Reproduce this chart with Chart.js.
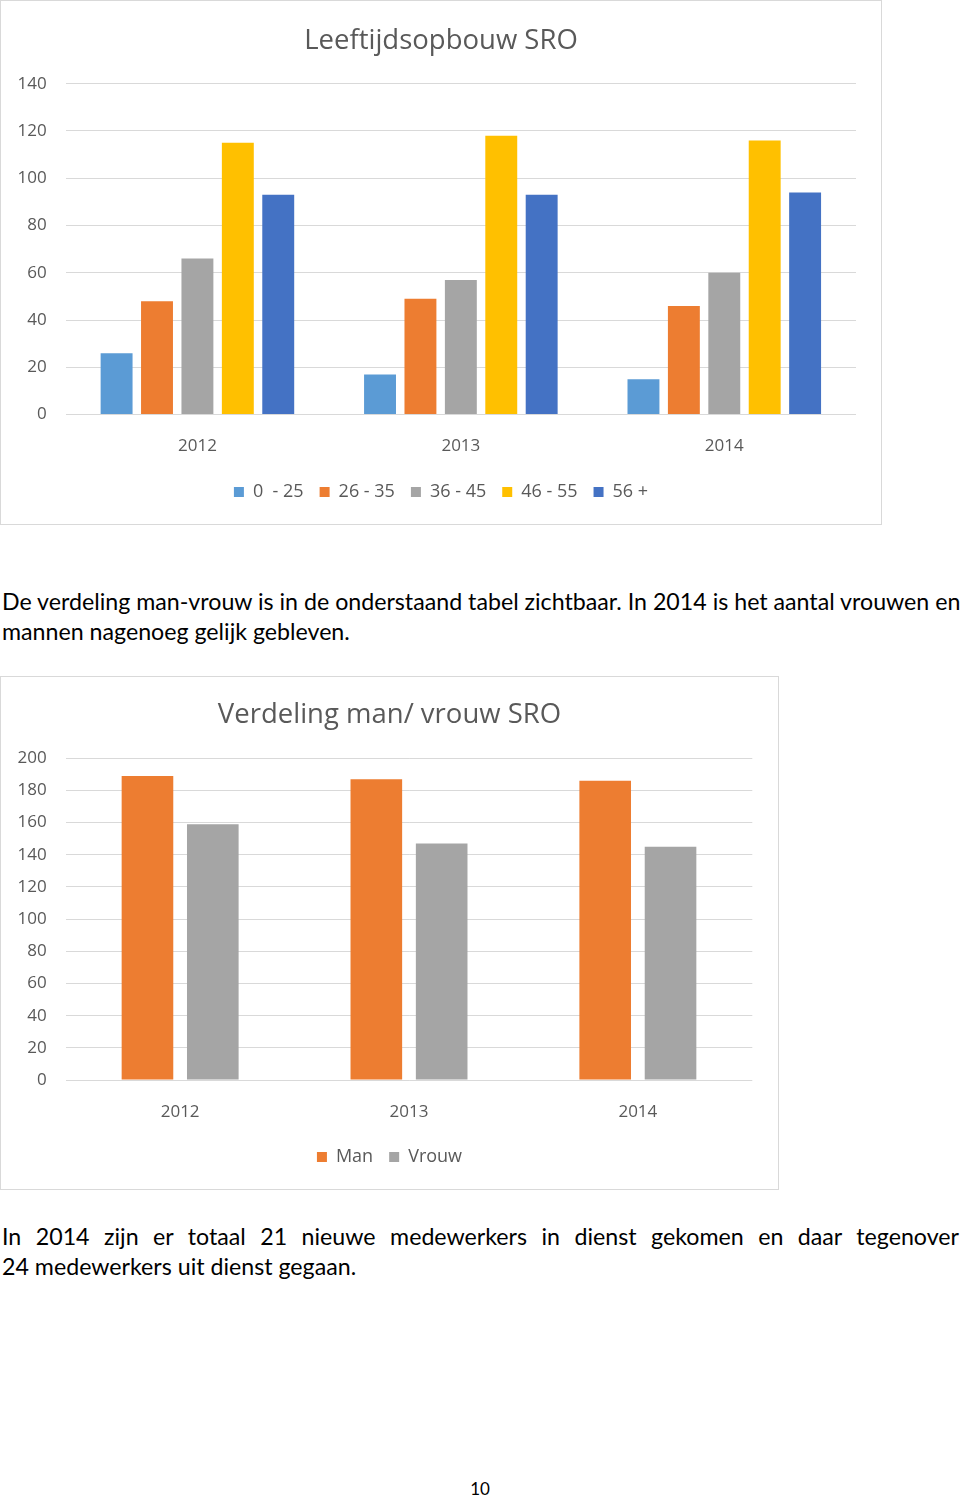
<!DOCTYPE html>
<html>
<head>
<meta charset="utf-8">
<script src="https://cdn.jsdelivr.net/npm/chart.js@4"></script>
<style>
    html, body { margin: 0; padding: 0; background: #ffffff; }
    body { width: 960px; height: 1496px; position: relative; overflow: hidden; font-family: Lato, 'Noto Sans', sans-serif; color: #000000; }
    .box { position: absolute; border: 1px solid #d9d9d9; box-sizing: border-box; }
    .box canvas { display: block; }
    .line { position: absolute; left: 2px; font-size: 23.2px; line-height: 30px; white-space: nowrap; }
    .just { width: 957px; text-align: justify; text-align-last: justify; }
    .pagenr { position: absolute; left: 0; width: 960px; top: 1478px; text-align: center; font-size: 17px; line-height: 22px; }
</style>
</head>
<body>

<div class="box" style="left:0; top:0; width:882px; height:525px;">
    <canvas id="ageChart" width="880" height="523"></canvas>
</div>

<div class="line" style="top:586px;">De verdeling man-vrouw is in de onderstaand tabel zichtbaar. In 2014 is het aantal vrouwen en</div>
<div class="line" style="top:616px;">mannen nagenoeg gelijk gebleven.</div>

<div class="box" style="left:0; top:676px; width:779px; height:514px;">
    <canvas id="genderChart" width="777" height="512"></canvas>
</div>

<div class="line just" style="top:1221px;">In 2014 zijn er totaal 21 nieuwe medewerkers in dienst gekomen en daar tegenover</div>
<div class="line" style="top:1251px;">24 medewerkers uit dienst gegaan.</div>

<div class="pagenr">10</div>

<script>
// jaren en leeftijdsgroepen
const years = ['2012', '2013', '2014'];
const ageGroups = ['0  - 25', '26 - 35', '36 - 45', '46 - 55', '56 +'];

// aantallen per leeftijdsgroep
const age0to25 = [26, 17, 15];
const age26to35 = [48, 49, 46];
const age36to45 = [66, 57, 60];
const age46to55 = [115, 118, 116];
const age56plus = [93, 93, 94];

// man / vrouw
const genders = ['Man', 'Vrouw'];
const men = [189, 187, 186];
const women = [159, 147, 145];

// as-instellingen
const ageMax = 140;
const genderMax = 200;
const tickStep = 20;

const ageColors = ['#5B9BD5', '#ED7D31', '#A5A5A5', '#FFC000', '#4472C4'];
const genderColors = ['#ED7D31', '#A5A5A5'];

Chart.defaults.font.family = "'Open Sans', 'Noto Sans', sans-serif";
Chart.defaults.color = '#595959';

function baseOptions(title, max, titlePad, catPct, rightGap, xHeight) {
    return {
        responsive: false,
        animation: false,
        layout: { padding: { left: 0, right: 0, top: 0, bottom: 13 } },
        datasets: { bar: { categoryPercentage: catPct, barPercentage: 0.79 } },
        plugins: {
            title: {
                display: true,
                text: title,
                color: '#595959',
                font: { size: 27.5, weight: 'normal' },
                padding: titlePad
            },
            legend: {
                display: true,
                position: 'bottom',
                labels: {
                    boxWidth: 10,
                    boxHeight: 10,
                    padding: 16,
                    color: '#595959',
                    font: { size: 18 }
                }
            },
            tooltip: { enabled: false }
        },
        scales: {
            x: {
                grid: { display: false, drawTicks: false },
                border: { display: false },
                ticks: { padding: 21.5, color: '#595959', font: { size: 17 } },
                afterFit: function(scale) { scale.height = xHeight; }
            },
            y: {
                min: 0,
                max: max,
                grid: { color: '#d9d9d9', lineWidth: 1, drawTicks: false },
                border: { display: false },
                ticks: { stepSize: tickStep, padding: 19, color: '#595959', font: { size: 17 } },
                afterFit: function(scale) { scale.width = 64.7; }
            },
            // lege as rechts: houdt witruimte vrij zodat titel en legenda gecentreerd blijven
            yRight: {
                position: 'right',
                min: 0,
                max: max,
                grid: { display: false, drawTicks: false },
                border: { display: false },
                ticks: { display: false },
                afterFit: function(scale) { scale.width = rightGap; }
            }
        }
    };
}

// leeftijdsopbouw
function createAgeChart() {
    const ctx = document.getElementById('ageChart');
    const series = [age0to25, age26to35, age36to45, age46to55, age56plus];
    new Chart(ctx, {
        type: 'bar',
        data: {
            labels: years,
            datasets: series.map(function(values, i) {
                return {
                    label: ageGroups[i],
                    data: values,
                    backgroundColor: ageColors[i],
                    borderWidth: 0
                };
            })
        },
        options: baseOptions('Leeftijdsopbouw SRO', ageMax, { top: 23.5, bottom: 26.2 }, 0.767, 25, 52.4)
    });
}

// verdeling man / vrouw
function createGenderChart() {
    const ctx = document.getElementById('genderChart');
    const series = [men, women];
    new Chart(ctx, {
        type: 'bar',
        data: {
            labels: years,
            datasets: series.map(function(values, i) {
                return {
                    label: genders[i],
                    data: values,
                    backgroundColor: genderColors[i],
                    borderWidth: 0
                };
            })
        },
        options: baseOptions('Verdeling man/ vrouw SRO', genderMax, { top: 21.6, bottom: 26.7 }, 0.571, 25.7, 52)
    });
}

createAgeChart();
createGenderChart();
</script>
</body>
</html>
